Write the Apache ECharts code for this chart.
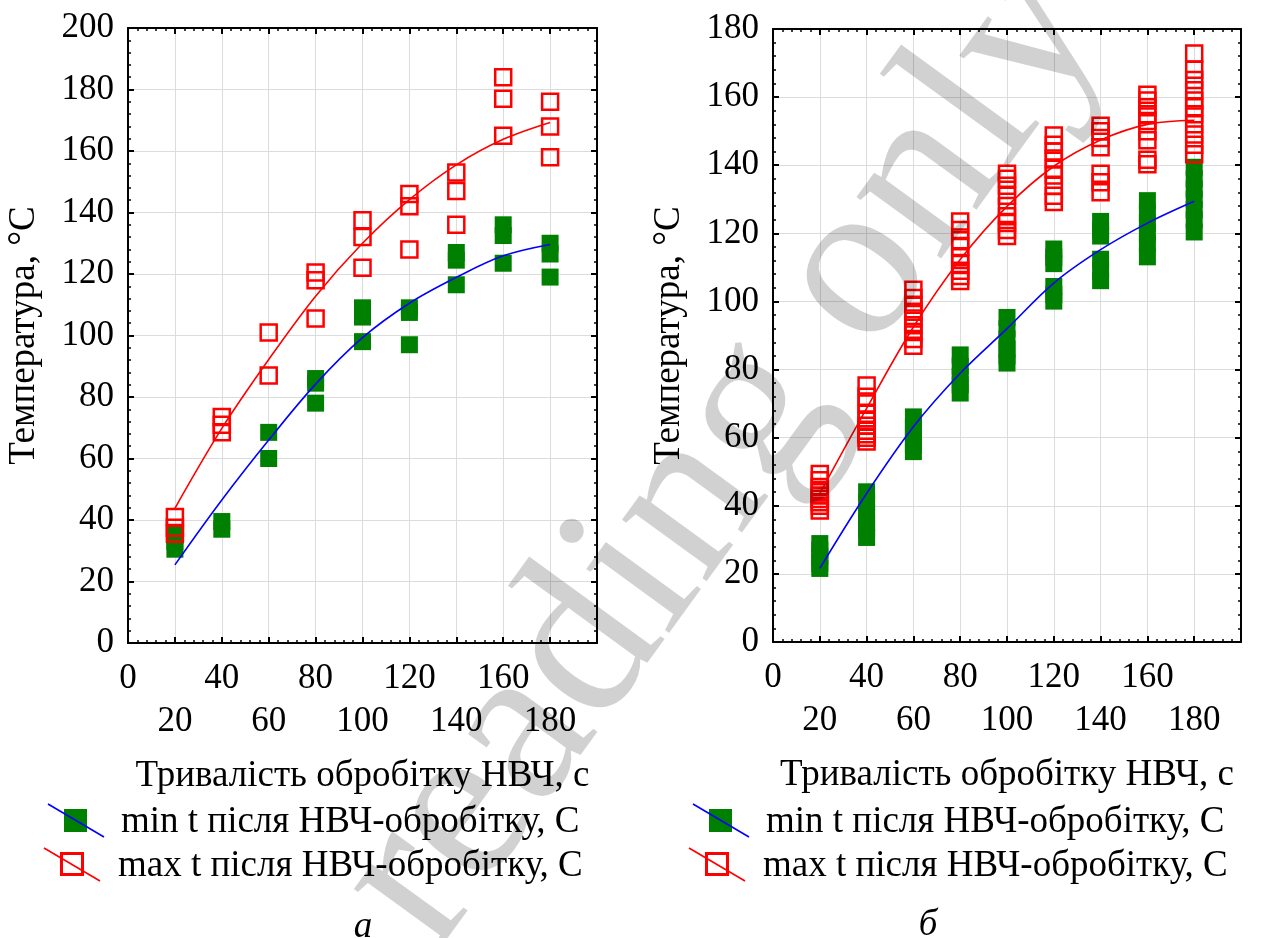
<!DOCTYPE html>
<html>
<head>
<meta charset="utf-8">
<script src="https://cdn.jsdelivr.net/npm/echarts@6/dist/echarts.min.js"></script>
<style>
html,body{margin:0;padding:0;background:#fff;}
#c{width:1270px;height:938px;}
</style>
</head>
<body>
<div id="c"></div>
<script>
// ---- data ----
const xCats = [20, 40, 60, 80, 100, 120, 140, 160, 180];
const xTicks = [0, 20, 40, 60, 80, 100, 120, 140, 160, 180, 200];
const yTicksA = [0, 20, 40, 60, 80, 100, 120, 140, 160, 180, 200];
const yTicksB = [0, 20, 40, 60, 80, 100, 120, 140, 160, 180];

const nameMin = 'min t після НВЧ-обробітку, С';
const nameMax = 'max t після НВЧ-обробітку, С';
const xTitle = 'Тривалість обробітку НВЧ, с';
const yTitle = 'Температура, °С';

// chart a
const aMax = [
  [41, 37.5, 35.5], [73.5, 71, 68.5], [101, 87], [120.5, 118, 105.5],
  [137.5, 132, 122], [146, 142, 128], [153, 147, 136], [184, 177, 165], [176, 168, 158]
];
const aMin = [
  [35, 33, 30.5], [39.5, 37], [68.5, 60], [86, 84.5, 78],
  [109, 106, 98], [109, 107.5, 97], [127, 124.5, 116.5], [136, 132.5, 123.5], [130, 126.5, 119]
];
const aFitMax = [43.8, 69.8, 92.2, 112.8, 130, 144.2, 155.5, 163.8, 169.3];
const aFitMin = [25.4, 46.5, 66, 84.2, 99.3, 110.5, 118.9, 125.9, 129.6];

// chart б
const bMax = [
  [49.3, 47.5, 45.5, 44, 43, 42, 41, 40, 38.6],
  [75.3, 72, 70, 67, 65, 63.5, 62, 61, 60, 58.9],
  [103.4, 101, 99, 97, 95, 93, 91, 89, 87],
  [123.5, 121, 118, 116, 113, 111, 109, 107.5, 106],
  [137.5, 136, 134, 131, 128, 125, 123, 121, 119.2],
  [148.7, 146, 144, 142, 139, 137, 134, 131, 129.2],
  [151.6, 150, 148, 145.3, 137.5, 135, 132.1],
  [160.7, 159, 157, 155, 153, 150, 147.3, 141.6, 140.3],
  [172.8, 168, 165, 162, 159, 157, 155, 152, 149, 146, 143.2]
];
const bMin = [
  [28.9, 27, 25, 23, 21.6],
  [44.1, 41, 38, 35, 33, 30.7],
  [66.1, 63, 61, 58, 55.9],
  [84.3, 81, 78, 75.5, 73.1],
  [95.3, 92, 89, 86, 84, 81.9],
  [115.4, 113, 111.1, 104.4, 102, 100.1],
  [123.5, 121, 119.2, 112.4, 109, 106.1],
  [129.6, 126, 123, 120, 117, 113.1],
  [139.4, 136, 133, 130, 127, 124, 120.4]
];
const bFitMax = [43.6, 68.6, 92.5, 112.3, 127.9, 139.7, 147.4, 152, 153.2];
const bFitMin = [21.6, 43.6, 63.2, 78.9, 92, 105.4, 115.2, 123, 129.4];

// ---- build ----
const FONT = 'Liberation Serif';
const FS = 35;
const FT = 37;
function pairs(groups) {
  const out = [];
  groups.forEach((g, i) => g.forEach(v => out.push([xCats[i], v])));
  return out;
}
function line(vals) { return vals.map((v, i) => [xCats[i], v]); }

const gridA = { left: 128, top: 28, width: 469, height: 615 };
const gridB = { left: 773, top: 29, width: 468, height: 613 };

function xAxes(gi) {
  const common = {
    gridIndex: gi, type: 'value', min: xTicks[0], max: xTicks[xTicks.length - 1],
    interval: xTicks[1] - xTicks[0],
    axisLine: { show: true, onZero: false, lineStyle: { color: '#000', width: 2 } },
    axisTick: { show: true, inside: true, length: 6, lineStyle: { color: '#000', width: 2 } },
    minorTick: { show: true, splitNumber: 5, length: 3, lineStyle: { color: '#000', width: 1.5 } },
  };
  return [
    Object.assign({}, common, {
      position: 'bottom',
      splitLine: { show: true, lineStyle: { color: '#dcdcdc', width: 1 } },
      axisLabel: {
        fontFamily: FONT, fontSize: FS, color: '#000', margin: 14, lineHeight: 43,
        formatter: v => ((v / 20) % 2 === 1 ? '\n' + v : '' + v)
      },
      name: xTitle, nameLocation: 'middle', nameGap: 115,
      nameTextStyle: { fontFamily: FONT, fontSize: FT, color: '#000' }
    }),
    Object.assign({}, common, {
      position: 'top', splitLine: { show: false }, axisLabel: { show: false }
    })
  ];
}
function yAxes(gi, ticks) {
  const common = {
    gridIndex: gi, type: 'value', min: ticks[0], max: ticks[ticks.length - 1],
    interval: ticks[1] - ticks[0],
    axisLine: { show: true, onZero: false, lineStyle: { color: '#000', width: 2 } },
    axisTick: { show: true, inside: true, length: 6, lineStyle: { color: '#000', width: 2 } },
    minorTick: { show: true, splitNumber: 5, length: 3, lineStyle: { color: '#000', width: 1.5 } },
  };
  return [
    Object.assign({}, common, {
      position: 'left',
      splitLine: { show: true, lineStyle: { color: '#dcdcdc', width: 1 } },
      axisLabel: { fontFamily: FONT, fontSize: FS, color: '#000', margin: 14 },
      name: yTitle, nameLocation: 'middle', nameGap: 85, nameRotate: 90,
      nameTextStyle: { fontFamily: FONT, fontSize: FT, color: '#000' }
    }),
    Object.assign({}, common, {
      position: 'right', splitLine: { show: false }, axisLabel: { show: false }
    })
  ];
}

function seriesFor(xi, yi, mx, mn, fmx, fmn) {
  return [
    { type: 'scatter', name: nameMin, xAxisIndex: xi, yAxisIndex: yi, data: pairs(mn),
      symbol: 'rect', symbolSize: 17, itemStyle: { color: '#008000', opacity: 1 }, z: 2 },
    { type: 'scatter', name: nameMax, xAxisIndex: xi, yAxisIndex: yi, data: pairs(mx),
      symbol: 'rect', symbolSize: 16,
      itemStyle: { color: 'rgba(0,0,0,0)', borderColor: '#ff0000', borderWidth: 2.5, opacity: 1 }, z: 3 },
    { type: 'line', xAxisIndex: xi, yAxisIndex: yi, data: line(fmn), smooth: 0.35,
      showSymbol: false, lineStyle: { color: '#0000ff', width: 1.6 }, z: 4 },
    { type: 'line', xAxisIndex: xi, yAxisIndex: yi, data: line(fmx), smooth: 0.35,
      showSymbol: false, lineStyle: { color: '#ff0000', width: 1.6 }, z: 4 }
  ];
}

function legendGraphics(dx) {
  const t = { fontFamily: FONT, fontSize: FT, fill: '#000', verticalAlign: 'middle', align: 'left' };
  return [
    { type: 'line', shape: { x1: 48 + dx, y1: 804, x2: 104 + dx, y2: 837 }, style: { stroke: '#0000ff', lineWidth: 1.6 }, z: 10 },
    { type: 'rect', shape: { x: 64 + dx, y: 809, width: 23, height: 23 }, style: { fill: '#008000' }, z: 9 },
    { type: 'text', x: 121 + dx, y: 822, style: Object.assign({ text: nameMin }, t), z: 10 },
    { type: 'line', shape: { x1: 44 + dx, y1: 848, x2: 100 + dx, y2: 881 }, style: { stroke: '#ff0000', lineWidth: 1.6 }, z: 10 },
    { type: 'rect', shape: { x: 61.5 + dx, y: 853.5, width: 21, height: 21 }, style: { fill: 'none', stroke: '#ff0000', lineWidth: 3 }, z: 9 },
    { type: 'text', x: 118 + dx, y: 866, style: Object.assign({ text: nameMax }, t), z: 10 }
  ];
}

const wmStyle = { fontFamily: FONT, fontSize: 228, fill: 'rgba(0,0,0,0.18)' };
const rot = 54 * Math.PI / 180;
const wmX = 295, wmY = 852;

const option = {
  backgroundColor: '#fff',
  animation: false,
  grid: [gridA, gridB],
  xAxis: xAxes(0).concat(xAxes(1)),
  yAxis: yAxes(0, yTicksA).concat(yAxes(1, yTicksB)),
  series: seriesFor(0, 0, aMax, aMin, aFitMax, aFitMin).concat(seriesFor(2, 2, bMax, bMin, bFitMax, bFitMin)),
  graphic: legendGraphics(0).concat(legendGraphics(645)).concat([
    { type: 'text', x: 363, y: 927, style: { text: 'а', fontFamily: FONT, fontStyle: 'italic', fontSize: FT, fill: '#000', align: 'center', verticalAlign: 'middle' } },
    { type: 'text', x: 928, y: 925, style: { text: 'б', fontFamily: FONT, fontStyle: 'italic', fontSize: FT, fill: '#000', align: 'center', verticalAlign: 'middle' } },
    { type: 'text', x: wmX, y: wmY, rotation: rot,
      style: Object.assign({ text: 'reading only', align: 'left', verticalAlign: 'alphabetic' }, wmStyle), z: 100, silent: true }
  ])
};

const chart = echarts.init(document.getElementById('c'), null, { renderer: 'canvas' });
chart.setOption(option);
</script>
</body>
</html>
